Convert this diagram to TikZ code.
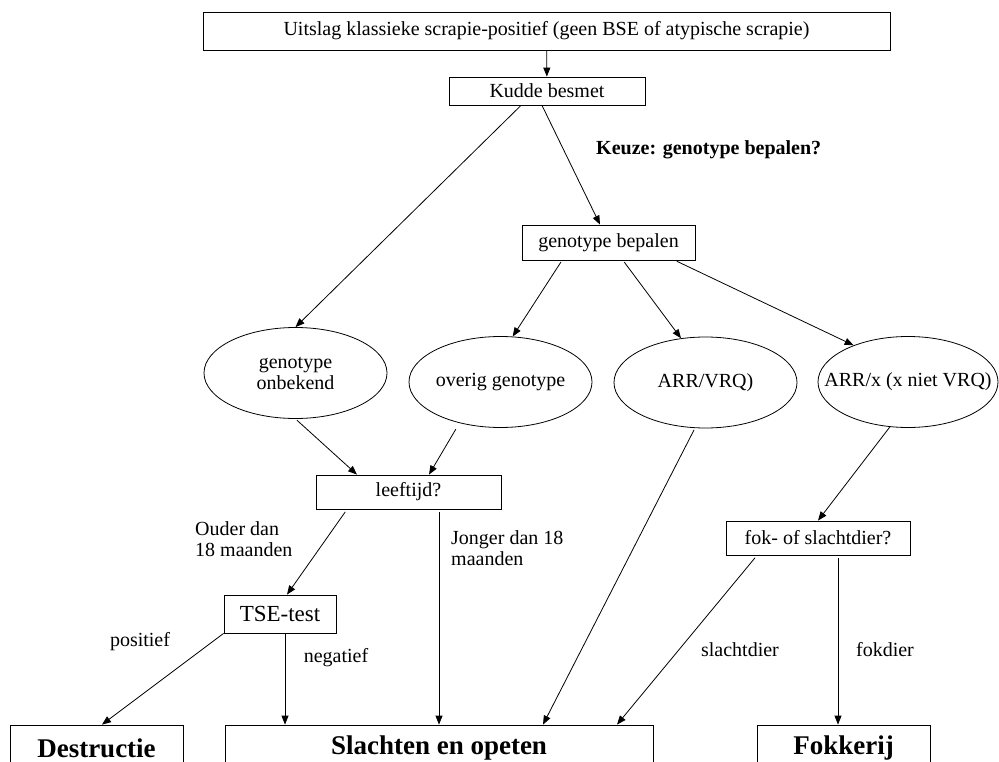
\documentclass[tikz,border=0pt]{standalone}
\usepackage{fontspec}
\setmainfont{Liberation Serif}
\usetikzlibrary{positioning,arrows.meta,shapes}

\begin{document}
\begin{tikzpicture}[
    x=1pt, y=-1pt,
    font=\fontsize{20}{21}\selectfont,
    box/.style={rectangle, draw, line width=0.8pt, inner sep=0pt, align=center},
    oval/.style={ellipse, draw, line width=0.8pt, inner sep=0pt, minimum width=183pt, minimum height=91pt},
    endbox/.style={rectangle, draw, line width=0.8pt, inner sep=0pt, minimum width=173pt, minimum height=46pt, font=\fontsize{27}{30}\selectfont\bfseries},
    lbl/.style={align=left, inner sep=0pt},
    arrow/.style={-{Triangle[length=9pt,width=7pt]}, line width=0.8pt}
]
\path[use as bounding box, clip] (0,0) rectangle (999,762);

\node[box, minimum width=687pt, minimum height=38pt] (uitslag) at (546.5,31) {Uitslag klassieke scrapie-positief (geen BSE of atypische scrapie)};
\node[box, minimum width=196pt, minimum height=28pt] (kudde) at (547,91) {Kudde besmet};
\node[anchor=west, inner sep=0pt, font=\fontsize{20}{21}\selectfont\bfseries] (keuze) at (596,150) {Keuze: genotype bepalen?};
\node[box, minimum width=173pt, minimum height=35pt] (bepalen) at (608.5,242.5) {genotype bepalen};

\node[oval, label={[align=center]center:genotype\\onbekend}] (onbekend) at (295.5,373) {};
\node[oval, label={center:overig genotype}] (overig) at (500.5,382) {};
\node[oval, label={center:ARR/VRQ)}] (arrvrq) at (705.5,382.5) {};
\node[oval, minimum width=180pt, label={center:ARR/x (x niet VRQ)}] (arrx) at (908,382) {};

\node[box, minimum width=185pt, minimum height=34pt] (leeftijd) at (408.5,492) {leeftijd?};
\node[box, minimum width=184pt, minimum height=34pt] (fok) at (818,538) {fok- of slachtdier?};
\node[box, minimum width=112pt, minimum height=38pt, font=\fontsize{23}{25}\selectfont] (tse) at (280,614) {TSE-test};

\node[endbox] (destructie) at (96.5,748) {Destructie};
\node[endbox, minimum width=428pt] (slachten) at (439,748) {Slachten en opeten};
\node[endbox] (fokkerij) at (843.5,748) {Fokkerij};

\node[lbl, anchor=west] (ouder) at (195,539.5) {Ouder dan\\18 maanden};
\node[lbl, anchor=west] (jonger) at (451,548) {Jonger dan 18\\maanden};
\node (positief) at (140,642) {positief};
\node (negatief) at (336,658) {negatief};
\node (slachtdier) at (740,650) {slachtdier};
\node (fokdier) at (885,650) {fokdier};

\draw[arrow] (uitslag) -- (kudde);
\draw[arrow] ([xshift=-26pt]kudde.south) -- (onbekend.north);
\draw[arrow] ([xshift=-5pt]kudde.south) -- ([xshift=-8.5pt]bepalen.north);
\draw[arrow, shorten <=2pt] ([xshift=-46.5pt]bepalen.south) -- (overig.75);
\draw[arrow, shorten <=2pt] ([xshift=14.5pt]bepalen.south) -- (arrvrq.119);
\draw[arrow, shorten <=2pt] ([xshift=66.5pt]bepalen.south) -- (arrx.146);
\draw[arrow, shorten <=2pt] (onbekend.south) -- ([xshift=-51.5pt]leeftijd.north);
\draw[arrow, shorten <=7pt] (overig.225) -- ([xshift=20.5pt]leeftijd.north);
\draw[arrow, shorten <=2pt] (arrvrq.257) -- ([xshift=104pt]slachten.north);
\draw[arrow] (arrx.248) -- (fok.north);
\draw[arrow, shorten <=3pt] ([xshift=-61.5pt]leeftijd.south) -- ([xshift=7pt]tse.north);
\draw[arrow, shorten <=3pt] ([xshift=30.5pt]leeftijd.south) -- ([xshift=30.5pt]leeftijd.south |- slachten.north);
\draw[arrow] (tse.south west) -- ([xshift=5.5pt]destructie.north);
\draw[arrow] ([xshift=5pt]tse.south) -- ([xshift=5pt]tse.south |- slachten.north);
\draw[arrow, shorten <=3pt] ([xshift=-61pt]fok.south) -- ([xshift=178pt]slachten.north);
\draw[arrow, shorten <=3pt] ([xshift=20pt]fok.south) -- ([xshift=20pt]fok.south |- fokkerij.north);
\end{tikzpicture}
\end{document}
